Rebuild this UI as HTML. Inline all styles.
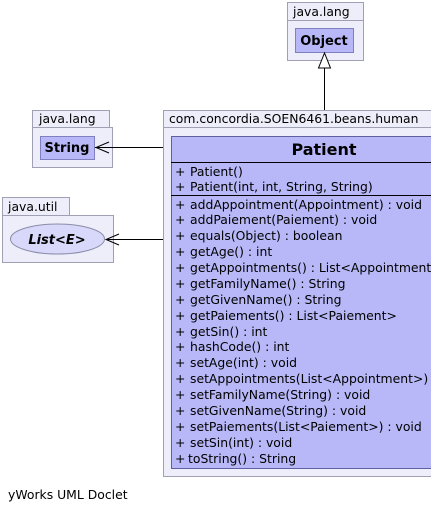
<!DOCTYPE html>
<html><head><style>body{margin:0;background:#fff}svg{display:block}</style></head><body>
<svg width="431" height="514" xmlns="http://www.w3.org/2000/svg" font-family="DejaVu Sans, Liberation Sans, sans-serif" font-size="12.4">
<rect x="287.5" y="2.5" width="76" height="18" fill="#eeeefa" stroke="#a0a0b4"/>
<rect x="287.5" y="20.5" width="76" height="40" fill="#eeeefa" stroke="#a0a0b4"/>
<text x="293" y="16">java.lang</text>
<rect x="295.5" y="28.5" width="58" height="24" fill="#b8b8f8" stroke="#8080c0"/>
<text x="324" y="45" text-anchor="middle" font-weight="bold" font-size="13">Object</text>
<line x1="324.5" y1="68" x2="324.5" y2="136" stroke="#000"/>
<polygon points="324.5,53 318.5,68 330.5,68" fill="#fff" stroke="#000"/>
<rect x="32.5" y="110.5" width="77" height="17" fill="#eeeefa" stroke="#a0a0b4"/>
<rect x="32.5" y="127.5" width="80" height="40" fill="#eeeefa" stroke="#a0a0b4"/>
<text x="39" y="123">java.lang</text>
<rect x="40.5" y="136.5" width="54" height="23" fill="#b8b8f8" stroke="#8080c0"/>
<text x="67" y="152" text-anchor="middle" font-weight="bold" font-size="13">String</text>
<line x1="95" y1="147.5" x2="171" y2="147.5" stroke="#000"/>
<polyline points="109,142 96,147.5 109,153" fill="none" stroke="#000"/>
<rect x="2.5" y="197.5" width="67" height="18" fill="#eeeefa" stroke="#a0a0b4"/>
<rect x="2.5" y="215.5" width="111" height="47" fill="#eeeefa" stroke="#a0a0b4"/>
<text x="8" y="211">java.util</text>
<ellipse cx="57.5" cy="239" rx="47" ry="15" fill="#d8d8fa" stroke="#8c8ca8"/>
<text x="57" y="244" text-anchor="middle" font-weight="bold" font-style="italic" font-size="13">List&lt;E&gt;</text>
<line x1="106" y1="239.5" x2="171" y2="239.5" stroke="#000"/>
<polyline points="119,234 106,239.5 119,245" fill="none" stroke="#000"/>
<rect x="163.5" y="110.5" width="268" height="17" fill="#eeeefa" stroke="#a0a0b4"/>
<rect x="163.5" y="127.5" width="268" height="349" fill="#eeeefa" stroke="#a0a0b4"/>
<text x="169" y="123">com.concordia.SOEN6461.beans.human</text>
<rect x="171.5" y="136.5" width="262" height="332" fill="#b8b8f8" stroke="#6060a0"/>
<text x="324" y="155" text-anchor="middle" font-weight="bold" font-size="16">Patient</text>
<line x1="171" y1="162.5" x2="431" y2="162.5" stroke="#000"/>
<line x1="171" y1="195.5" x2="431" y2="195.5" stroke="#000"/>
<g>
<text x="175" y="176">+</text><text x="190" y="176">Patient()</text>
<text x="175" y="191">+</text><text x="190" y="191">Patient(int, int, String, String)</text>
<text x="175" y="209">+</text><text x="190" y="209">addAppointment(Appointment) : void</text>
<text x="175" y="224">+</text><text x="190" y="224">addPaiement(Paiement) : void</text>
<text x="175" y="240">+</text><text x="190" y="240">equals(Object) : boolean</text>
<text x="175" y="256">+</text><text x="190" y="256">getAge() : int</text>
<text x="175" y="272">+</text><text x="190" y="272">getAppointments() : List&lt;Appointment&gt;</text>
<text x="175" y="288">+</text><text x="190" y="288">getFamilyName() : String</text>
<text x="175" y="304">+</text><text x="190" y="304">getGivenName() : String</text>
<text x="175" y="320">+</text><text x="190" y="320">getPaiements() : List&lt;Paiement&gt;</text>
<text x="175" y="336">+</text><text x="190" y="336">getSin() : int</text>
<text x="175" y="351">+</text><text x="190" y="351">hashCode() : int</text>
<text x="175" y="367">+</text><text x="190" y="367">setAge(int) : void</text>
<text x="175" y="383">+</text><text x="190" y="383">setAppointments(List&lt;Appointment&gt;) : void</text>
<text x="175" y="399">+</text><text x="190" y="399">setFamilyName(String) : void</text>
<text x="175" y="415">+</text><text x="190" y="415">setGivenName(String) : void</text>
<text x="175" y="431">+</text><text x="190" y="431">setPaiements(List&lt;Paiement&gt;) : void</text>
<text x="175" y="447">+</text><text x="190" y="447">setSin(int) : void</text>
<text x="175" y="463">+</text><text x="188" y="463">toString() : String</text>
</g>
<text x="8" y="499">yWorks UML Doclet</text>
</svg>
</body></html>
